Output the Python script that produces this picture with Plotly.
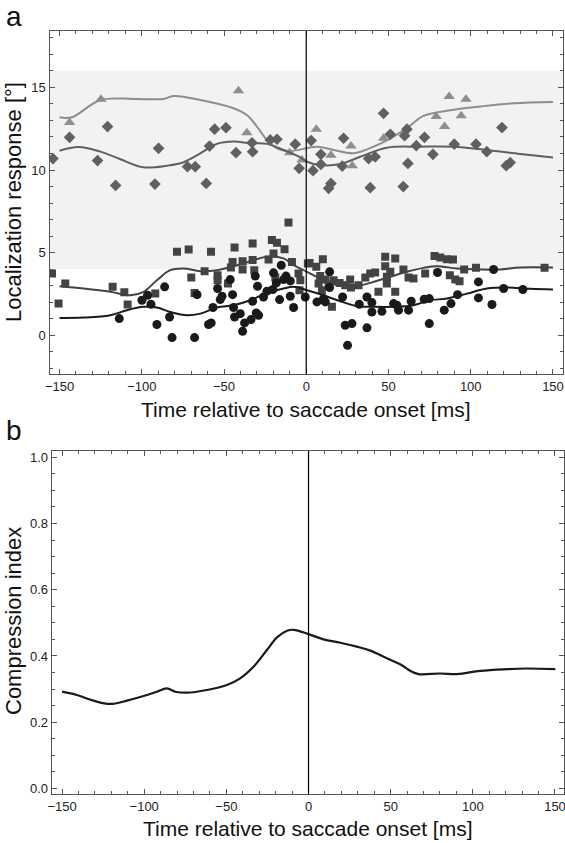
import plotly.graph_objects as go

# --- panel a: localization responses (time in ms, response in deg) ---
tri_t = [-143.9, -124.8, -41.2, -36.1, -10.1, -2.6, 6.1, 15.0, 27.2, 28.0,
         47.0, 79.0, 84.1, 86.9, 94.2, 97.1]
tri_r = [12.87, 14.28, 14.80, 12.26, 11.05, 10.60, 12.47, 10.90, 11.45, 10.26,
         11.92, 13.23, 12.63, 14.45, 13.29, 14.28]

dia_t = [-154.0, -143.9, -126.9, -120.8, -115.9, -92.0, -89.8, -72.2, -67.5, -60.8,
         -58.8, -55.7, -48.8, -42.7, -33.0, -32.6, -21.9, -17.8, -6.7, -4.3,
         3.0, 8.9, 4.1, 8.9, 13.6, 15.0, 22.7, 21.9, 37.9, 41.9,
         38.9, 47.0, 51.1, 61.2, 59.8, 61.8, 59.0, 71.9, 66.9, 77.0,
         90.0, 103.2, 109.8, 119.0, 121.6, 124.0]
dia_r = [10.69, 11.98, 10.57, 12.63, 9.07, 9.15, 11.31, 10.20, 10.20, 9.19,
         11.45, 12.47, 12.56, 11.05, 11.65, 11.11, 11.82, 11.86, 11.56, 10.10,
         11.78, 10.95, 9.96, 10.34, 8.89, 9.19, 11.92, 10.24, 10.69, 10.80,
         8.93, 13.43, 12.16, 12.47, 12.08, 10.40, 9.00, 11.98, 11.47, 10.95,
         11.56, 11.56, 11.11, 12.57, 10.26, 10.45]

sq_t = [-154.6, -150.6, -146.5, -117.7, -110.6, -108.6, -91.8, -78.6, -71.5, -69.9,
        -67.9, -57.9, -61.8, -53.9, -53.9, -47.6, -45.8, -44.8, -43.6, -38.7,
        -38.7, -32.6, -32.6, -31.6, -22.9, -20.9, -19.9, -17.8, -18.8, -13.2,
        -10.8, -8.7, -4.7, -4.1, -3.6, 1.0, 2.0, 6.1, 10.1, 8.5,
        7.5, 9.5, 11.6, 13.6, 15.6, 16.6, 20.3, 23.7, 26.7, 27.2,
        31.8, 35.9, 38.9, 41.9, 43.9, 48.0, 48.0, 49.0, 49.0, 51.1,
        54.1, 54.1, 59.1, 62.2, 65.2, 72.3, 78.0, 81.5, 85.5, 89.2,
        87.3, 90.6, 93.2, 96.0, 103.2, 144.9]
sq_r = [3.74, 1.92, 3.13, 2.93, 2.61, 1.86, 2.53, 5.05, 5.19, 3.50,
        2.56, 5.05, 3.88, 3.64, 3.33, 3.13, 4.10, 4.44, 5.31, 4.48,
        3.98, 5.56, 4.55, 3.94, 4.59, 5.76, 4.95, 5.60, 3.50, 5.21,
        6.83, 4.44, 3.74, 2.73, 3.33, 4.34, 4.38, 4.14, 4.60, 3.58,
        3.13, 2.73, 3.37, 3.07, 1.72, 3.33, 3.17, 3.03, 3.37, 2.89,
        3.03, 3.50, 3.74, 3.80, 2.63, 4.75, 4.18, 3.54, 3.13, 3.84,
        4.65, 2.63, 3.98, 3.50, 3.43, 3.74, 4.80, 4.71, 4.60, 4.59,
        3.64, 3.37, 3.27, 3.98, 4.08, 4.08]

dot_t = [-113.7, -99.9, -96.5, -94.4, -90.8, -86.1, -83.1, -81.6, -67.9, -66.4,
         -59.4, -57.8, -56.7, -53.9, -52.3, -51.2, -46.2, -44.8, -44.2, -43.6,
         -40.1, -38.7, -37.5, -33.6, -32.6, -31.0, -30.4, -29.0, -29.6, -26.0,
         -23.9, -20.3, -19.9, -18.2, -16.2, -15.2, -13.8, -12.3, -9.7, -9.7,
         -7.7, -0.6, 6.5, 10.5, 11.6, 14.2, 14.2, 22.1, 23.7, 25.1,
         27.8, 32.2, 36.9, 36.9, 39.9, 39.9, 46.0, 53.1, 55.1, 56.1,
         62.2, 63.8, 71.7, 74.8, 74.8, 79.8, 83.9, 88.0, 92.0, 104.7,
         104.7, 112.9, 113.9, 120.0, 131.7]
dot_r = [1.01, 2.12, 2.42, 1.88, 0.65, 2.93, 1.11, -0.14, -0.14, 2.46,
         0.65, 0.75, 1.68, 2.83, 2.16, 2.36, 3.37, 2.46, 1.68, 1.11,
         1.31, 0.24, 0.75, 0.95, 2.06, 3.58, 1.35, 1.21, 2.97, 2.32,
         2.67, 2.77, 3.78, 3.17, 2.16, 4.24, 3.37, 3.58, 2.36, 3.29,
         1.68, 2.32, 2.02, 2.22, 2.02, 3.84, 2.89, 2.32, 0.61, -0.61,
         0.71, 1.88, 2.32, 0.45, 1.98, 1.41, 1.45, 1.92, 1.82, 1.52,
         1.52, 2.06, 2.18, 2.22, 0.71, 3.80, 1.52, 1.92, 2.46, 3.23,
         2.26, 1.86, 3.98, 2.83, 2.77]

# smoothed running estimates
tri_fit_t = [-150, -142.5, -125.2, -105, -86.7, -80.7, -64.4, -44.2, -36.1, -30,
             -23.9, -17.8, -9.7, 6.5, 16.6, 28.8, 40.9, 53.1, 61.2, 71.3,
             85.5, 105.8, 126, 150]
tri_fit_r = [13.19, 13.19, 14.24, 14.30, 14.30, 14.48, 14.24, 13.74, 13.33, 12.63,
             11.82, 11.31, 11.15, 11.41, 11.21, 11.01, 11.41, 12.02, 12.53, 13.27,
             13.58, 13.84, 14.04, 14.12]

dia_fit_t = [-150, -138.4, -125.2, -113, -98.9, -84.7, -74.6, -64.4, -54.3, -44.2,
             -34, -23.9, -13.8, -3.6, 0.4, 8.5, 20.7, 32.8, 49, 69.3,
             89.5, 109.8, 130.1, 150]
dia_fit_r = [11.17, 11.39, 11.11, 10.65, 10.16, 10.26, 10.47, 11.01, 11.58, 11.72,
             11.62, 11.58, 11.21, 10.77, 10.50, 10.30, 10.36, 10.80, 11.35, 11.41,
             11.41, 11.21, 10.97, 10.75]

sq_fit_t = [-150, -135.4, -119.1, -107, -98.9, -90.8, -82.7, -74.6, -64.4, -54.3,
            -44.2, -34, -23.9, -13.8, -7.7, 0.4, 8.5, 18.7, 28.8, 38.9,
            51.1, 61.2, 71.3, 79.4, 91.6, 105.8, 117.9, 130.1, 150]
sq_fit_r = [2.97, 2.83, 2.63, 2.42, 2.63, 3.33, 3.94, 4.04, 3.88, 3.94,
            4.18, 4.48, 4.75, 4.65, 4.24, 3.84, 3.43, 3.03, 2.93, 3.17,
            3.54, 3.84, 4.08, 4.18, 4.04, 3.98, 3.98, 4.10, 4.10]

dot_fit_t = [-150, -135.4, -119.1, -109, -98.9, -90.8, -82.7, -72.5, -64.4, -54.3,
             -44.2, -34, -23.9, -13.8, -7.7, 0.4, 10.5, 20.7, 30.8, 40.9,
             53.1, 65.2, 75.4, 85.5, 97.7, 109.8, 122, 136.2, 150]
dot_fit_r = [1.05, 1.07, 1.21, 1.52, 1.72, 1.68, 1.41, 1.21, 1.31, 1.68,
             1.82, 2.12, 2.56, 2.83, 2.93, 2.73, 2.42, 2.06, 1.76, 1.72,
             1.72, 1.82, 2.12, 2.22, 2.52, 2.83, 2.89, 2.81, 2.77]

# --- panel b: compression index ---
ci_t = [-150, -141, -130.9, -120.7, -110.5, -100.4, -92.3, -86.2, -81.1, -74,
        -61.8, -49.7, -41.6, -33.5, -25.3, -19.2, -13.1, -9.1, 0, 9.1,
        19.3, 29.4, 37.6, 47.7, 56.8, 61.9, 67, 80.2, 90.3, 104.5,
        120.8, 132.9, 150.2]
ci_v = [0.292, 0.282, 0.265, 0.255, 0.265, 0.279, 0.292, 0.302, 0.292, 0.289,
        0.297, 0.312, 0.332, 0.367, 0.418, 0.456, 0.476, 0.479, 0.466, 0.450,
        0.440, 0.428, 0.416, 0.393, 0.372, 0.355, 0.345, 0.347, 0.345, 0.355,
        0.360, 0.362, 0.360]

W, H = 565, 843
FONT = "Liberation Sans, Arial, Helvetica, sans-serif"
FRAME = "#555555"

fig = go.Figure()


def add_series(t, r, fit_t, fit_r, symbol, size, color):
    fig.add_trace(go.Scatter(x=fit_t, y=fit_r, mode="lines", line_shape="spline",
                             line=dict(color=color, width=2), xaxis="x", yaxis="y",
                             hoverinfo="skip"))
    fig.add_trace(go.Scatter(x=t, y=r, mode="markers", xaxis="x", yaxis="y",
                             marker=dict(symbol=symbol, size=size, color=color,
                                         line=dict(width=0))))


add_series(tri_t, tri_r, tri_fit_t, tri_fit_r, "triangle-up", 10, "#8e8e8e")
add_series(dia_t, dia_r, dia_fit_t, dia_fit_r, "diamond", 9, "#606060")
add_series(sq_t, sq_r, sq_fit_t, sq_fit_r, "square", 8, "#434343")
add_series(dot_t, dot_r, dot_fit_t, dot_fit_r, "circle", 9, "#1a1a1a")

fig.add_trace(go.Scatter(x=ci_t, y=ci_v, mode="lines", line_shape="spline",
                         line=dict(color="#1a1a1a", width=2.2), xaxis="x2", yaxis="y2"))

# shaded target region and saccade-onset line
fig.add_shape(type="rect", xref="x domain", yref="y", x0=0, x1=1, y0=4, y1=16,
              fillcolor="#f2f2f2", line_width=0, layer="below")
for xr, yr in (("x", "y domain"), ("x2", "y2 domain")):
    fig.add_shape(type="line", xref=xr, yref=yr, x0=0, x1=0, y0=0, y1=1,
                  line=dict(color="black", width=1.2))


def frame_axis(**kw):
    d = dict(showline=True, linecolor=FRAME, linewidth=1.2, mirror="ticks",
             ticks="inside", ticklen=5, tickwidth=1, tickcolor=FRAME,
             showgrid=False, zeroline=False, automargin=False,
             ticklabeloverflow="allow",
             tickfont=dict(family=FONT, size=13, color="#222222"))
    d.update(kw)
    return d


fig.update_layout(
    width=W, height=H,
    margin=dict(l=0, r=0, t=0, b=0),
    plot_bgcolor="white", paper_bgcolor="white",
    showlegend=False,
    font=dict(family=FONT, color="#222222"),
    xaxis=frame_axis(domain=[49.5 / W, 563 / W], range=[-156.1, 156.1], anchor="y",
                     tickvals=[-150, -100, -50, 0, 50, 100, 150],
                     minor=dict(dtick=10, tick0=0, ticks="inside", ticklen=3, tickcolor=FRAME)),
    yaxis=frame_axis(domain=[1 - 374.3 / H, 1 - 31 / H], range=[-2.36, 18.41], anchor="x",
                     tickvals=[0, 5, 10, 15],
                     minor=dict(dtick=1, tick0=0, ticks="inside", ticklen=3, tickcolor=FRAME)),
    xaxis2=frame_axis(domain=[51.7 / W, 563.7 / W], range=[-156.3, 155.3], anchor="y2",
                      tickvals=[-150, -100, -50, 0, 50, 100, 150],
                      minor=dict(dtick=10, tick0=0, ticks="inside", ticklen=3, tickcolor=FRAME)),
    yaxis2=frame_axis(domain=[1 - 794 / H, 1 - 451 / H], range=[-0.017, 1.019], anchor="x2",
                      tickvals=[0, 0.2, 0.4, 0.6, 0.8, 1.0], tickformat=".1f",
                      minor=dict(dtick=0.05, tick0=0, ticks="inside", ticklen=3, tickcolor=FRAME)),
)

xtitle = "Time relative to saccade onset [ms]"
texts = [
    dict(text="a", x=5 / W, y=1.0, xanchor="left", yanchor="top", size=28, angle=0),
    dict(text="b", x=5 / W, y=1 - 414 / H, xanchor="left", yanchor="top", size=28, angle=0),
    dict(text=xtitle, x=306 / W, y=1 - 409 / H, xanchor="center", yanchor="middle", size=21, angle=0),
    dict(text=xtitle, x=308 / W, y=1 - 828 / H, xanchor="center", yanchor="middle", size=21, angle=0),
    dict(text="Localization response [°]", x=13 / W, y=1 - 202 / H, xanchor="center",
         yanchor="middle", size=22, angle=-90),
    dict(text="Compression index", x=13 / W, y=1 - 621 / H, xanchor="center",
         yanchor="middle", size=22, angle=-90),
]
for t in texts:
    fig.add_annotation(text=t["text"], x=t["x"], y=t["y"], xref="paper", yref="paper",
                       xanchor=t["xanchor"], yanchor=t["yanchor"], textangle=t["angle"],
                       showarrow=False, borderpad=0,
                       font=dict(family=FONT, size=t["size"], color="#111111"))

fig.write_html("out.html", config={"displayModeBar": False},
               post_script="document.body.style.margin='0';")
